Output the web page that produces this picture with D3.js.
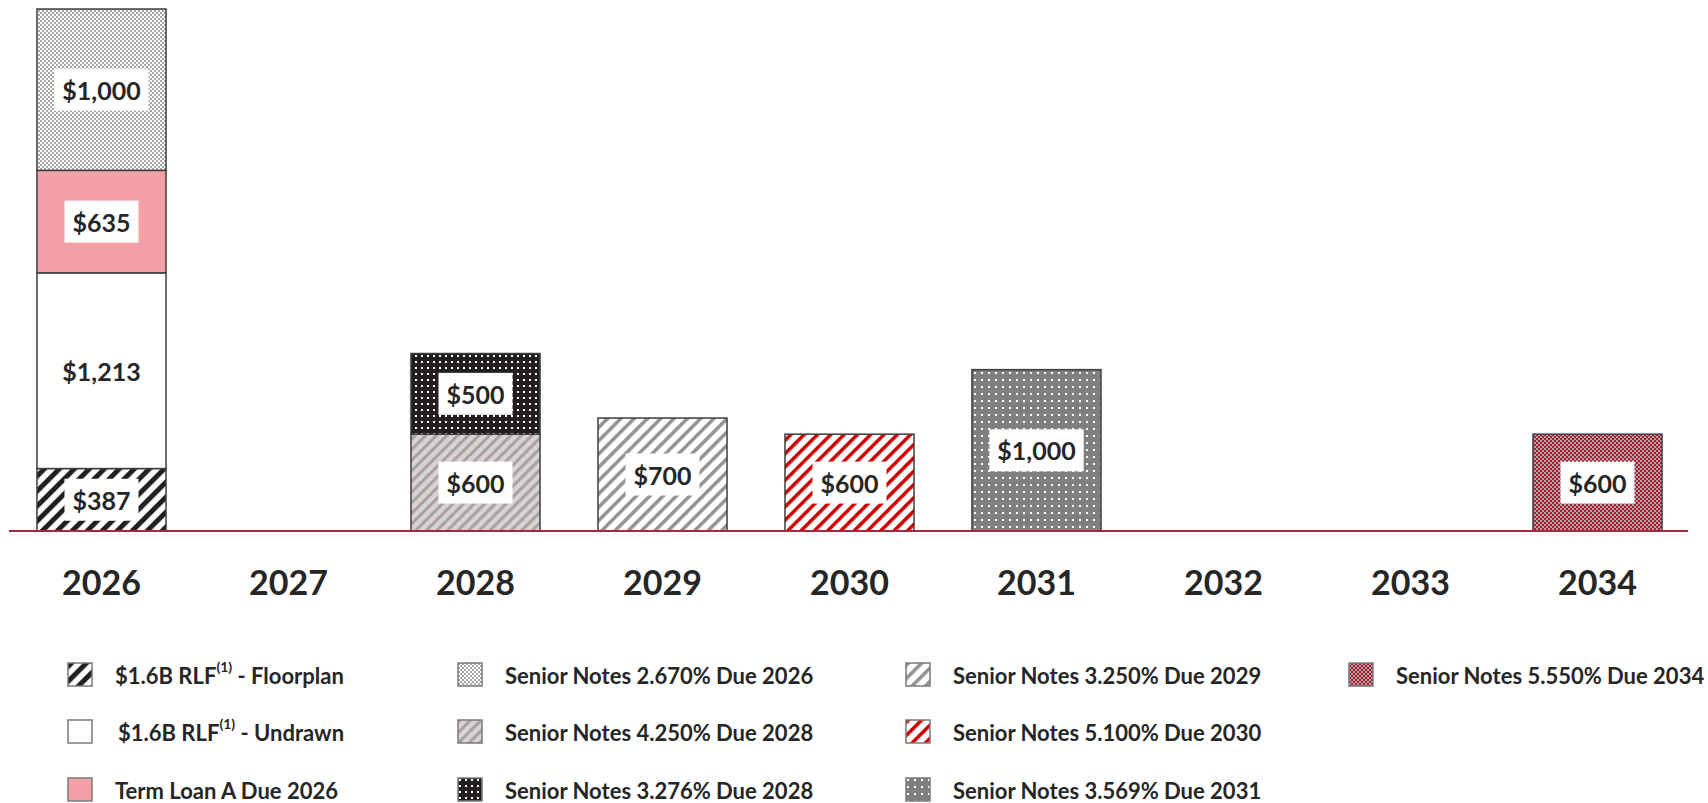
<!DOCTYPE html>
<html>
<head>
<meta charset="utf-8">
<script src="https://cdn.jsdelivr.net/npm/d3@7"></script>
<style>
  body { margin: 0; background: #fff; }
  text { font-family: Lato, "Open Sans", sans-serif; font-weight: 700; fill: #262626; }
</style>
</head>
<body>
<div class="d3-container"></div>
<script>
// maturities by year, $ millions
const years = ["2026", "2027", "2028", "2029", "2030", "2031", "2032", "2033", "2034"];

const rlfFloorplan   = [387, 0, 0, 0, 0, 0, 0, 0, 0];
const rlfUndrawn     = [1213, 0, 0, 0, 0, 0, 0, 0, 0];
const termLoanA      = [635, 0, 0, 0, 0, 0, 0, 0, 0];
const notes2670_2026 = [1000, 0, 0, 0, 0, 0, 0, 0, 0];
const notes4250_2028 = [0, 0, 600, 0, 0, 0, 0, 0, 0];
const notes3276_2028 = [0, 0, 500, 0, 0, 0, 0, 0, 0];
const notes3250_2029 = [0, 0, 0, 700, 0, 0, 0, 0, 0];
const notes5100_2030 = [0, 0, 0, 0, 600, 0, 0, 0, 0];
const notes3569_2031 = [0, 0, 0, 0, 0, 1000, 0, 0, 0];
const notes5550_2034 = [0, 0, 0, 0, 0, 0, 0, 0, 600];

const seriesKeys = ["floor", "undrawn", "tla", "n2670", "n4250", "n3276", "n3250", "n5100", "n3569", "n5550"];
const seriesValues = [rlfFloorplan, rlfUndrawn, termLoanA, notes2670_2026, notes4250_2028,
                      notes3276_2028, notes3250_2029, notes5100_2030, notes3569_2031, notes5550_2034];
const seriesLabels = [
    ["$1.6B RLF", "(1)", " - Floorplan"],
    ["$1.6B RLF", "(1)", " - Undrawn"],
    ["Term Loan A Due 2026"],
    ["Senior Notes 2.670% Due 2026"],
    ["Senior Notes 4.250% Due 2028"],
    ["Senior Notes 3.276% Due 2028"],
    ["Senior Notes 3.250% Due 2029"],
    ["Senior Notes 5.100% Due 2030"],
    ["Senior Notes 3.569% Due 2031"],
    ["Senior Notes 5.550% Due 2034"]
];

const W = 1708, H = 803;
const baseY = 531, topY = 9;

const svg = d3.select(".d3-container").append("svg")
    .attr("width", W).attr("height", H);

const defs = svg.append("defs");

function stripes(id, size, thick, color, bg) {
    const p = defs.append("pattern").attr("id", id)
        .attr("patternUnits", "userSpaceOnUse")
        .attr("width", size).attr("height", size)
        .attr("patternTransform", "rotate(45)");
    p.append("rect").attr("width", size).attr("height", size).attr("fill", bg);
    p.append("rect").attr("width", thick).attr("height", size).attr("fill", color);
}
function checker(id, cell, color, bg) {
    const p = defs.append("pattern").attr("id", id)
        .attr("patternUnits", "userSpaceOnUse")
        .attr("width", cell * 2).attr("height", cell * 2);
    p.append("rect").attr("width", cell * 2).attr("height", cell * 2).attr("fill", bg);
    p.append("rect").attr("width", cell).attr("height", cell).attr("fill", color);
    p.append("rect").attr("x", cell).attr("y", cell).attr("width", cell).attr("height", cell).attr("fill", color);
}
function dots(id, size, dot, color, bg) {
    const p = defs.append("pattern").attr("id", id)
        .attr("patternUnits", "userSpaceOnUse")
        .attr("width", size).attr("height", size);
    p.append("rect").attr("width", size).attr("height", size).attr("fill", bg);
    p.append("rect").attr("x", 1).attr("y", 1).attr("width", dot).attr("height", dot).attr("fill", color);
}

stripes("p-floor", 10.6, 5, "#231f20", "#ffffff");
checker("p-n2670", 2, "#a6a6a6", "#ffffff");
stripes("p-n4250", 7.5, 3, "#a3a3a3", "#dcd2d2");
dots("p-n3276", 6, 2, "#ffffff", "#231f20");
stripes("p-n3250", 9.4, 3.5, "#939393", "#ffffff");
stripes("p-n5100", 9.4, 3.5, "#d00000", "#ffffff");
dots("p-n3569", 7, 2, "#ffffff", "#7f7f7f");
checker("p-n5550", 2, "#a8a8a8", "#b3142e");

const fills = {
    floor: "url(#p-floor)",
    undrawn: "#ffffff",
    tla: "#f4a0a8",
    n2670: "url(#p-n2670)",
    n4250: "url(#p-n4250)",
    n3276: "url(#p-n3276)",
    n3250: "url(#p-n3250)",
    n5100: "url(#p-n5100)",
    n3569: "url(#p-n3569)",
    n5550: "url(#p-n5550)"
};

const table = years.map((yr, i) => {
    const row = { year: yr };
    seriesKeys.forEach((k, j) => row[k] = seriesValues[j][i]);
    return row;
});

const stacked = d3.stack().keys(seriesKeys)(table);

const x = d3.scaleBand().domain(years).range([8, 1691])
    .paddingInner(0.31).paddingOuter(0.155);
const y = d3.scaleLinear()
    .domain([0, d3.max(table, d => d3.sum(seriesKeys, k => d[k]))])
    .range([baseY, topY]);

const layers = svg.append("g").selectAll("g").data(stacked).join("g")
    .attr("fill", d => fills[d.key]);

layers.selectAll("rect")
    .data(d => d.filter(s => s[1] - s[0] > 0))
    .join("rect")
    .attr("x", d => x(d.data.year))
    .attr("y", d => y(d[1]))
    .attr("width", x.bandwidth())
    .attr("height", d => y(d[0]) - y(d[1]))
    .attr("stroke", "#3d3d3d")
    .attr("stroke-width", 1.5);

// value labels with white boxes
const fmt = d3.format(",");
stacked.forEach(layer => {
    layer.filter(s => s[1] - s[0] > 0).forEach(s => {
        const cx = x(s.data.year) + x.bandwidth() / 2;
        const cy = (y(s[0]) + y(s[1])) / 2;
        const g = svg.append("g");
        const box = g.append("rect").attr("fill", "#fff");
        const t = g.append("text")
            .attr("x", cx).attr("y", cy)
            .attr("text-anchor", "middle")
            .attr("dominant-baseline", "central")
            .style("font-size", "25px")
            .text("$" + fmt(s[1] - s[0]));
        const bb = t.node().getBBox();
        box.attr("x", bb.x - 8).attr("y", cy - 21)
            .attr("width", bb.width + 16).attr("height", 42);
    });
});

// baseline
svg.append("line")
    .attr("x1", 9).attr("x2", 1688)
    .attr("y1", baseY).attr("y2", baseY)
    .attr("stroke", "#a8283d").attr("stroke-width", 2);

// year axis labels
const xAxis = svg.append("g").attr("transform", `translate(0,${baseY})`)
    .call(d3.axisBottom(x).tickSize(0).tickPadding(0));
xAxis.select(".domain").remove();
xAxis.selectAll("text")
    .attr("y", 64).attr("dy", 0)
    .style("font-size", "34px")
    .style("font-family", "Lato, sans-serif")
    .style("font-weight", 700)
    .attr("fill", "#262626");

// legend
const legCols = [68, 458, 906, 1349];
const legRows = [663, 720, 778];
const legend = svg.append("g").selectAll("g").data(seriesKeys).join("g")
    .attr("transform", (d, i) => `translate(${legCols[Math.floor(i / 3)]},${legRows[i % 3]})`);

legend.append("rect")
    .attr("width", 24).attr("height", 23)
    .attr("fill", d => fills[d])
    .attr("stroke", "#7a7a7a").attr("stroke-width", 1.5);

legend.append("text")
    .attr("x", (d, i) => i === 1 ? 50 : 47)
    .attr("y", 12)
    .attr("dominant-baseline", "central")
    .style("font-size", "22px")
    .each(function (d, i) {
        const parts = seriesLabels[i];
        const t = d3.select(this);
        t.append("tspan").text(parts[0]);
        if (parts.length > 1) {
            t.append("tspan").attr("baseline-shift", "super").style("font-size", "14px").text(parts[1]);
            t.append("tspan").attr("baseline-shift", "0").text(parts[2]);
        }
    });
</script>
</body>
</html>
